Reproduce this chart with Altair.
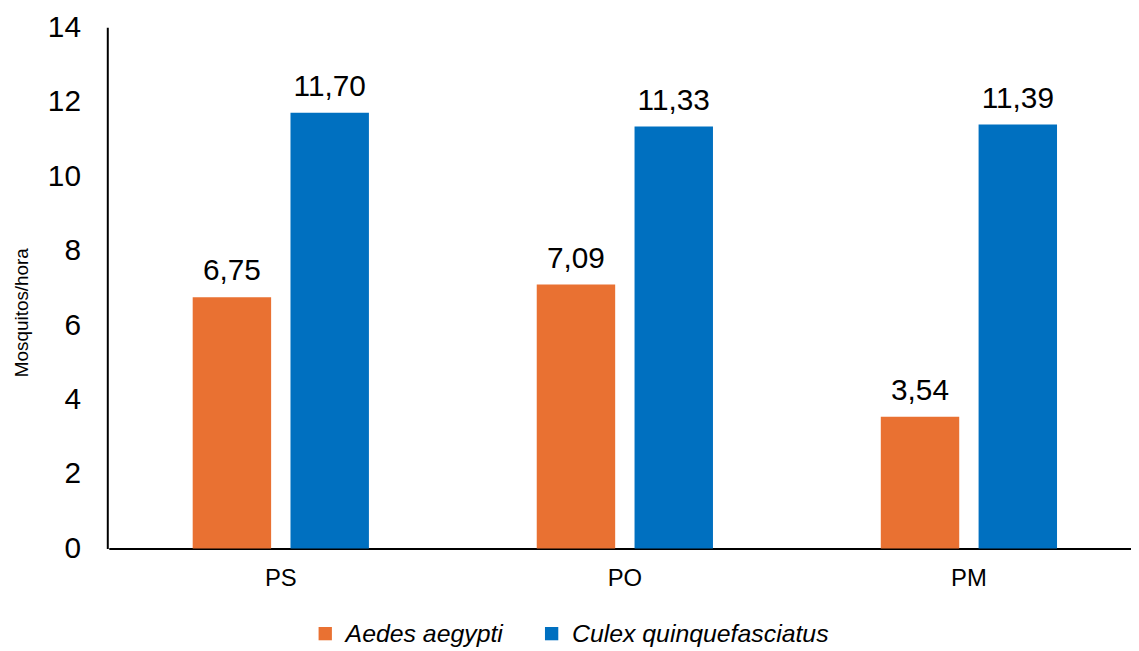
import altair as alt
import pandas as pd

sites = ["PS", "PO", "PM"]
species = ["Aedes aegypti", "Culex quinquefasciatus"]
aedes = [6.75, 7.09, 3.54]
culex = [11.70, 11.33, 11.39]
colors = ["#E97132", "#0070C0"]
y_ticks = [0, 2, 4, 6, 8, 10, 12, 14]

rows = []
for i, s in enumerate(sites):
    rows.append({"site": s, "species": species[0], "value": aedes[i]})
    rows.append({"site": s, "species": species[1], "value": culex[i]})
df = pd.DataFrame(rows)

FONT = "Liberation Sans"

x = alt.X("site:N", sort=sites, title=None,
          scale=alt.Scale(range=[1.5, 1041], paddingInner=0, paddingOuter=0),
          axis=alt.Axis(labelAngle=0, labelFontSize=24, labelPadding=18, ticks=False,
                        domainColor="#000000", domainWidth=2, labelColor="#000000",
                        labelFont=FONT))
xoff = alt.XOffset("species:N", sort=species,
                   scale=alt.Scale(paddingInner=0.198, paddingOuter=0.858))

base = alt.Chart(df).encode(x=x, xOffset=xoff)

bars = base.mark_bar().encode(
    y=alt.Y("value:Q", title="Mosquitos/hora",
            scale=alt.Scale(domain=[0, 14], nice=False),
            axis=alt.Axis(values=y_ticks, grid=False, ticks=False, labelFontSize=30,
                          labelPadding=27, domainColor="#000000", domainWidth=2,
                          labelColor="#000000", titleFontSize=19, titleFontWeight="normal",
                          titleColor="#000000", titleX=-86, titleY=287,
                          titleBaseline="middle", titleAlign="center",
                          labelFont=FONT, titleFont=FONT)),
    color=alt.Color("species:N", sort=species,
                    scale=alt.Scale(domain=species, range=colors),
                    legend=alt.Legend(title=None, orient="none", direction="horizontal",
                                      legendX=207, legendY=598, symbolType="square",
                                      symbolSize=180, symbolStrokeWidth=0,
                                      labelFontSize=25, labelFontStyle="italic",
                                      labelFont=FONT, labelColor="#000000",
                                      labelLimit=500, columnPadding=36, labelOffset=8)),
)

labels = base.transform_calculate(
    label="replace(format(datum.value, '.2f'), '.', ',')"
).mark_text(baseline="alphabetic", dy=-17, fontSize=30, font=FONT, color="#000000").encode(
    y=alt.Y("value:Q"),
    text="label:N",
)

chart = alt.layer(bars, labels).properties(
    width=1031, height=525,
    autosize=alt.AutoSizeParams(type="none"),
    padding={"left": 100, "top": 17, "right": 0, "bottom": 115},
).configure_view(stroke=None)

chart.save("out.html", embed_options={"renderer": "svg", "actions": False})
